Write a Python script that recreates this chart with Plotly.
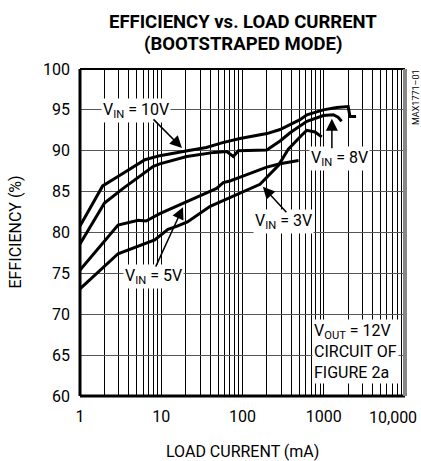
import numpy as np
import plotly.graph_objects as go

FONT = "Roboto, Liberation Sans, Arial, sans-serif"

# ---- data ----
vin10_i = [1, 1.9, 3, 5.4, 6.3, 9.6, 17, 21, 36, 57, 93, 200, 290, 385, 510, 620, 990, 1440, 2000, 2100, 2500]
vin10_e = [80.8, 85.7, 86.9, 88.5, 88.9, 89.4, 89.9, 90.0, 90.4, 91.0, 91.5, 92.1, 92.6, 93.2, 93.8, 94.4, 95.0, 95.3, 95.4, 94.2, 94.2]

vin8_i = [1, 2.0, 3.4, 8, 9.6, 20.6, 45, 64, 77, 89, 199, 290, 385, 510, 620, 990, 1310, 1500, 1660]
vin8_e = [78.6, 83.6, 85.4, 88.1, 88.4, 89.3, 89.8, 89.9, 89.3, 90.0, 90.1, 91.2, 92.2, 93.0, 93.6, 94.3, 94.4, 94.1, 93.6]

vin5_i = [1, 2.94, 5.2, 6.5, 9.6, 14, 21, 35, 48, 58, 70, 101, 199, 290, 490]
vin5_e = [75.4, 80.9, 81.5, 81.4, 82.3, 83.0, 83.8, 84.8, 85.4, 86.1, 86.3, 86.9, 88.0, 88.4, 88.8]

vin3_i = [1, 2.94, 8.3, 9.5, 12.1, 16, 21, 40, 101, 164, 276, 366, 535, 617, 780, 944]
vin3_e = [73.1, 77.4, 79.1, 79.6, 80.4, 80.8, 81.3, 83.2, 85.0, 85.9, 88.2, 90.2, 91.9, 92.5, 92.3, 91.7]

x_tick_vals = [1, 10, 100, 1000, 10000]
x_tick_text = ["1", "10", "100", "1000", "10,000"]
x_minor_vals = [m * d for d in [1, 10, 100, 1000] for m in range(2, 10)]
y_tick_vals = [60, 65, 70, 75, 80, 85, 90, 95, 100]

series = [(vin10_i, vin10_e), (vin8_i, vin8_e), (vin5_i, vin5_e), (vin3_i, vin3_e)]

fig = go.Figure()
for xi, yi in series:
    fig.add_trace(go.Scatter(x=xi, y=yi, mode="lines",
                             line=dict(color="black", width=3),
                             showlegend=False, hoverinfo="skip"))

lab_font = dict(family=FONT, size=16, color="black")

# the last x label (at the right edge) is drawn as an annotation so that it stays inside the page
axis_tick_text = x_tick_text[:-1] + [""]

fig.update_layout(
    width=421, height=461,
    margin=dict(l=80, r=16, t=69, b=65),
    paper_bgcolor="white", plot_bgcolor="white",
    xaxis=dict(type="log", range=[0, 4], tickvals=x_tick_vals, ticktext=axis_tick_text,
               showgrid=True, gridcolor="black", gridwidth=1,
               minor=dict(tickvals=x_minor_vals, showgrid=True, gridcolor="black", gridwidth=1),
               zeroline=False, showline=False, ticks="", ticklabelstandoff=9,
               tickfont=lab_font, fixedrange=True),
    yaxis=dict(range=[60, 100], tickvals=y_tick_vals,
               showgrid=True, gridcolor="#555", gridwidth=1.3,
               zeroline=False, showline=False, ticks="", ticklabelstandoff=9,
               tickfont=lab_font, fixedrange=True),
    font=dict(family=FONT, color="black"),
)

# frame
shapes = [
    dict(type="line", xref="paper", yref="paper", x0=0, y0=0, x1=1, y1=0, line=dict(color="black", width=3)),
    dict(type="line", xref="paper", yref="paper", x0=0, y0=0, x1=0, y1=1, line=dict(color="black", width=3)),
    dict(type="line", xref="paper", yref="paper", x0=0, y0=1, x1=1, y1=1, line=dict(color="black", width=2)),
    dict(type="line", xref="paper", yref="paper", x0=1, y0=0, x1=1, y1=1, line=dict(color="#888", width=4)),
]
fig.update_layout(shapes=shapes)

ann = []
tfont = dict(family=FONT, size=18.5, color="black")
# titles
ann.append(dict(text="<b>EFFICIENCY vs. LOAD CURRENT</b>", xref="paper", yref="paper", x=0.5, y=1,
                xanchor="center", yanchor="middle", yshift=47, height=20, showarrow=False, font=tfont))
ann.append(dict(text="<b>(BOOTSTRAPED MODE)</b>", xref="paper", yref="paper", x=0.5, y=1,
                xanchor="center", yanchor="middle", yshift=25, height=20, showarrow=False, font=tfont))
ann.append(dict(text="LOAD CURRENT (mA)", xref="paper", yref="paper", x=0.5, y=0, yshift=-55,
                xanchor="center", yanchor="middle", showarrow=False, font=lab_font))
ann.append(dict(text="EFFICIENCY (%)", xref="paper", yref="paper", x=0, y=0.5, xshift=-65,
                xanchor="center", yanchor="middle", textangle=-90, showarrow=False, font=lab_font))
ann.append(dict(text="MAX1771–01", xref="paper", yref="paper", x=1, y=0.914, xshift=11,
                xanchor="center", yanchor="middle", textangle=-90, showarrow=False,
                font=dict(family=FONT, size=9, color="black")))
# right-most x tick label
ann.append(dict(text=x_tick_text[-1], x=np.log10(x_tick_vals[-1]), y=0, xref="x", yref="paper",
                xanchor="right", yanchor="middle", xshift=14, yshift=-21, showarrow=False, font=lab_font))

# curve labels (text boxes)
labels = [
    ("V<sub>IN</sub> = 10V", 0.689, 94.87),
    ("V<sub>IN</sub> = 8V", 3.19, 89.0),
    ("V<sub>IN</sub> = 5V", 0.91, 74.57),
    ("V<sub>IN</sub> = 3V", 2.51, 81.3),
]
for t, lx, ly in labels:
    ann.append(dict(text=t, x=lx, y=ly, xref="x", yref="y", showarrow=False,
                    xanchor="center", yanchor="middle",
                    bgcolor="white", borderpad=1, font=dict(family=FONT, size=16, color="black")))

# arrows (head position in data coords, tail offset in px)
arrows = [
    (np.log10(18), 90.35, -30, -30),
    (3.10, 93.9, 0, 31),
    (1.268, 83.1, -28, 61),
    (2.25, 85.6, 25, 27),
]
for hx, hy, axp, ayp in arrows:
    ann.append(dict(text="", x=hx, y=hy, xref="x", yref="y", ax=axp, ay=ayp,
                    showarrow=True, arrowhead=2, arrowsize=1.6, arrowwidth=1.5,
                    arrowcolor="black", standoff=0))

ann.append(dict(text="V<sub>OUT</sub> = 12V<br>CIRCUIT OF<br>FIGURE 2a", x=2.855, y=65.4,
                xref="x", yref="y", xanchor="left", yanchor="middle", align="left", showarrow=False,
                bgcolor="white", borderpad=1, font=dict(family=FONT, size=16, color="black")))

fig.update_layout(annotations=ann)
fig.write_html("out.html", config={"displayModeBar": False},
               post_script="document.body.style.margin='0';document.body.style.overflow='hidden';")
